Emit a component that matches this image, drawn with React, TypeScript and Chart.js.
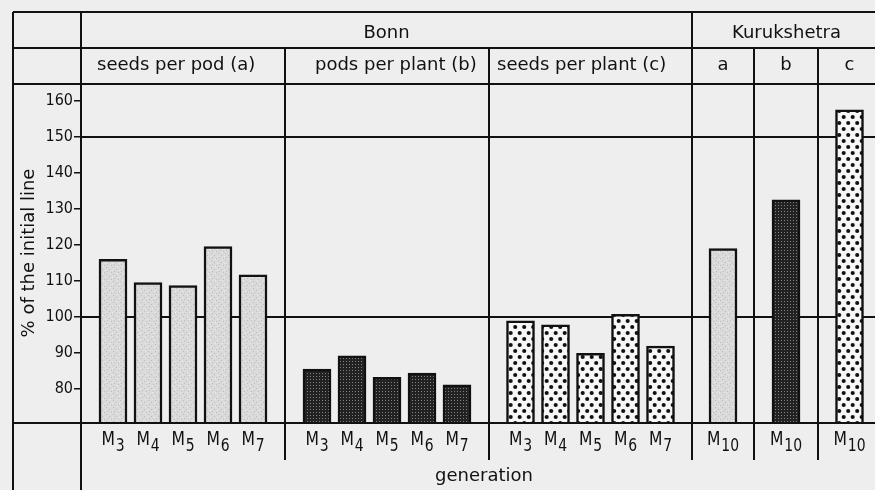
import { useEffect, useRef } from "react";
import { Chart, registerables } from "chart.js";

Chart.register(...registerables);

// ---- data ----------------------------------------------------------------
const sites = ["Bonn", "Kurukshetra"];
const bonnTraits = ["seeds per pod (a)", "pods per plant (b)", "seeds per plant (c)"];
const kurukshetraTraits = ["a", "b", "c"];
const bonnGenerations = ["3", "4", "5", "6", "7"];
const kurukshetraGenerations = ["10"];

const seedsPerPodBonn = [116, 109.5, 108.7, 119.5, 111.7];
const podsPerPlantBonn = [85.5, 89.2, 83.2, 84.4, 81.1];
const seedsPerPlantBonn = [98.9, 97.8, 89.9, 100.7, 91.9];
const seedsPerPodKurukshetra = [119];
const podsPerPlantKurukshetra = [132.5];
const seedsPerPlantKurukshetra = [157.5];

const yTicks = [80, 90, 100, 110, 120, 130, 140, 150, 160];
const referenceLines = [100, 150];
const yRange = [70.8, 164.7];
const yTitle = "% of the initial line";
const xTitle = "generation";

// ---- layout & style ------------------------------------------------------
const W = 875;
const H = 490;
const PAPER = "#eeeeee";
const INK = "#111111";
const FONT = "'DejaVu Sans', sans-serif";
const NARROW = "'DejaVu Sans Condensed', 'Liberation Sans Narrow', 'DejaVu Sans', sans-serif";

const FRAME_LEFT = 13;
const AXIS_X = 81;
const TOP_Y = 12;
const SITE_Y = 48;
const HEADER_Y = 84;
const AXIS_Y = 423;
const SUB_BOTTOM = 460;
// column boundaries, in pixels to the right of the value axis
const columnEdges = [0, 204, 408, 611, 673, 737, 800];
const BAR_PITCH = 35;
const BAR_WIDTH = 28;
const bonnHeaderInset = [16, 30, 8];

type Fill = "light" | "dark" | "dots";

function makePattern(kind: Fill): CanvasPattern | string {
  const c = document.createElement("canvas");
  const g = c.getContext("2d");
  if (!g) return "#ccc";
  if (kind === "light") {
    c.width = 7;
    c.height = 7;
    g.fillStyle = "#dadada";
    g.fillRect(0, 0, 7, 7);
    g.fillStyle = "#bdbdbd";
    [[1, 1], [4, 3], [2, 5], [6, 6]].forEach(([a, b]) => g.fillRect(a, b, 1, 1));
    g.fillStyle = "#ececec";
    [[5, 0], [0, 4]].forEach(([a, b]) => g.fillRect(a, b, 1, 1));
  } else if (kind === "dark") {
    c.width = 3;
    c.height = 3;
    g.fillStyle = "#222222";
    g.fillRect(0, 0, 3, 3);
    g.fillStyle = "#808080";
    g.fillRect(1, 1, 1, 1);
  } else {
    c.width = 9;
    c.height = 12;
    g.fillStyle = "#f7f7f7";
    g.fillRect(0, 0, 9, 12);
    g.fillStyle = "#111";
    [[2.2, 3], [6.7, 9]].forEach(([a, b]) => {
      g.beginPath();
      g.arc(a, b, 2.05, 0, Math.PI * 2);
      g.fill();
    });
  }
  return g.createPattern(c, "repeat") || "#ccc";
}

const columns: { values: number[]; gens: string[]; fill: Fill; label: string }[] = [
  { values: seedsPerPodBonn, gens: bonnGenerations, fill: "light", label: bonnTraits[0] },
  { values: podsPerPlantBonn, gens: bonnGenerations, fill: "dark", label: bonnTraits[1] },
  { values: seedsPerPlantBonn, gens: bonnGenerations, fill: "dots", label: bonnTraits[2] },
  { values: seedsPerPodKurukshetra, gens: kurukshetraGenerations, fill: "light", label: kurukshetraTraits[0] },
  { values: podsPerPlantKurukshetra, gens: kurukshetraGenerations, fill: "dark", label: kurukshetraTraits[1] },
  { values: seedsPerPlantKurukshetra, gens: kurukshetraGenerations, fill: "dots", label: kurukshetraTraits[2] },
];

const colCenter = (c: number) => (columnEdges[c] + columnEdges[c + 1]) / 2;
const barX = (c: number, j: number, n: number) => colCenter(c) + (j - (n - 1) / 2) * BAR_PITCH;

const tablePlugin = {
  id: "tableFrame",
  beforeDraw(chart: Chart) {
    const ctx = chart.ctx;
    ctx.save();
    ctx.fillStyle = PAPER;
    ctx.fillRect(0, 0, chart.width, chart.height);
    ctx.restore();
  },
  beforeDatasetsDraw(chart: Chart) {
    const { ctx, chartArea } = chart;
    const x = chart.scales.x;
    const y = chart.scales.y;
    const edges = columnEdges.map((v) => x.getPixelForValue(v));
    const right = chart.width;
    ctx.save();
    ctx.strokeStyle = INK;
    ctx.lineWidth = 2;
    const line = (x1: number, y1: number, x2: number, y2: number) => {
      ctx.beginPath();
      ctx.moveTo(x1, y1);
      ctx.lineTo(x2, y2);
      ctx.stroke();
    };
    [TOP_Y, SITE_Y, HEADER_Y, AXIS_Y].forEach((yy) => line(FRAME_LEFT, yy, right, yy));
    referenceLines.forEach((v) => {
      const yy = Math.round(y.getPixelForValue(v));
      line(chartArea.left, yy, right, yy);
    });
    line(FRAME_LEFT, TOP_Y, FRAME_LEFT, H);
    line(edges[0], TOP_Y, edges[0], H);
    line(edges[3], TOP_Y, edges[3], SUB_BOTTOM);
    [1, 2, 4, 5].forEach((i) => line(edges[i], SITE_Y, edges[i], SUB_BOTTOM));

    // header texts
    ctx.fillStyle = INK;
    ctx.textBaseline = "alphabetic";
    ctx.font = `18px ${FONT}`;
    ctx.textAlign = "center";
    ctx.fillText(sites[0], (edges[0] + edges[3]) / 2, 38);
    ctx.fillText(sites[1], (edges[3] + edges[6]) / 2, 38);
    ctx.textAlign = "left";
    bonnTraits.forEach((t, i) => ctx.fillText(t, edges[i] + bonnHeaderInset[i], 70));
    ctx.textAlign = "center";
    kurukshetraTraits.forEach((t, i) => ctx.fillText(t, (edges[i + 3] + edges[i + 4]) / 2, 70));

    // generation labels: M with a lowered index
    columns.forEach((col, c) => {
      col.gens.forEach((g, j) => {
        const cx = x.getPixelForValue(barX(c, j, col.gens.length));
        ctx.save();
        ctx.translate(cx, 0);
        ctx.scale(0.82, 1);
        ctx.font = `19px ${FONT}`;
        const wm = ctx.measureText("M").width;
        ctx.font = `17px ${FONT}`;
        const ws = ctx.measureText(g).width;
        const start = -(wm + ws + 1) / 2;
        ctx.textAlign = "left";
        ctx.font = `19px ${FONT}`;
        ctx.fillText("M", start, 445);
        ctx.font = `17px ${FONT}`;
        ctx.fillText(g, start + wm + 1, 451);
        ctx.restore();
      });
    });

    ctx.font = `18px ${FONT}`;
    ctx.textAlign = "center";
    ctx.fillText(xTitle, (edges[0] + edges[6]) / 2 + 3, 481);
    ctx.restore();
  },
};

export default function App() {
  const ref = useRef<HTMLCanvasElement>(null);
  useEffect(() => {
    document.body.style.margin = "0";
    document.body.style.background = PAPER;
    const canvas = ref.current;
    if (!canvas) return;
    const datasets = columns.map((col, c) => ({
      label: col.label,
      data: col.values.map((v, j) => ({ x: barX(c, j, col.values.length), y: v })),
      backgroundColor: makePattern(col.fill),
      borderColor: INK,
      borderWidth: 2.5,
      borderSkipped: false,
      grouped: false,
      barPercentage: 1,
      categoryPercentage: 1,
      maxBarThickness: BAR_WIDTH,
    }));
    const chart = new Chart(canvas, {
      type: "bar",
      data: { datasets: datasets as any },
      options: {
        responsive: false,
        animation: false,
        devicePixelRatio: 1,
        layout: { padding: { top: HEADER_Y, bottom: H - 422, left: 0, right: 0 } },
        plugins: { legend: { display: false }, tooltip: { enabled: false } },
        scales: {
          x: {
            type: "linear",
            display: false,
            min: 0,
            max: W - AXIS_X,
            offset: false,
          },
          y: {
            type: "linear",
            min: yRange[0],
            max: yRange[1],
            afterBuildTicks: (s: any) => {
              s.ticks = yTicks.map((v) => ({ value: v }));
            },
            afterFit: (s: any) => {
              s.width = AXIS_X;
            },
            ticks: {
              color: INK,
              padding: 1,
              font: { family: NARROW, size: 16 },
              callback: (v: any) => String(v),
            },
            grid: {
              drawOnChartArea: false,
              drawTicks: true,
              tickLength: 7,
              color: INK,
              lineWidth: 1.5,
            },
            border: { display: false },
            title: {
              display: true,
              text: yTitle,
              color: INK,
              font: { family: FONT, size: 18 },
              padding: { top: 19, bottom: 0 },
            },
          },
        },
      },
      plugins: [tablePlugin],
    });
    return () => chart.destroy();
  }, []);
  return (
    <div style={{ width: W, height: H }}>
      <canvas ref={ref} width={W} height={H} style={{ display: "block", width: W, height: H }} />
    </div>
  );
}
